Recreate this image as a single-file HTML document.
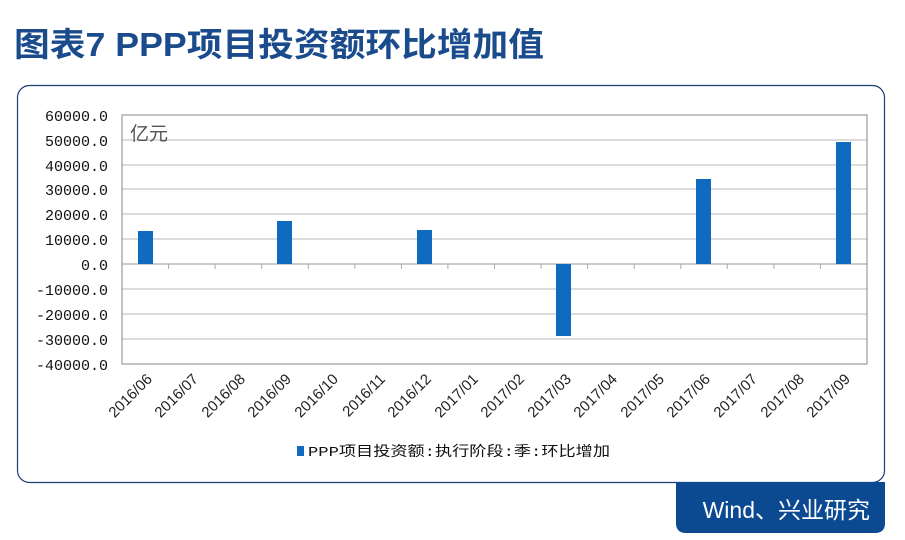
<!DOCTYPE html>
<html><head><meta charset="utf-8"><style>
body{margin:0;width:905px;height:540px;background:#fff;overflow:hidden;font-family:"Liberation Sans","Noto Sans CJK SC",sans-serif;}
</style></head><body>
<svg width="905" height="540" xmlns="http://www.w3.org/2000/svg" style="position:absolute;left:0;top:0">
<text x="14" y="56" font-size="33" font-weight="bold" fill="#1a4b8c" textLength="530" lengthAdjust="spacingAndGlyphs" font-family="Liberation Sans,Noto Sans CJK SC,sans-serif">图表7 PPP项目投资额环比增加值</text>
<rect x="17.5" y="85.5" width="867" height="397" rx="12" fill="#fff" stroke="#1a3f6e" stroke-width="1.2"/>
<path d="M676 482 H885 V523 Q885 533 875 533 H686 Q676 533 676 523 Z" fill="#0b4a91"/>
<text x="870" y="518" font-size="23" fill="#fff" text-anchor="end" font-family="Liberation Sans,Noto Sans CJK SC,sans-serif">Wind、兴业研究</text>
<g stroke="#d0d0d0" stroke-width="1.5">
<line x1="122" y1="140" x2="867" y2="140"/><line x1="122" y1="165" x2="867" y2="165"/><line x1="122" y1="189" x2="867" y2="189"/><line x1="122" y1="214" x2="867" y2="214"/><line x1="122" y1="239" x2="867" y2="239"/><line x1="122" y1="289" x2="867" y2="289"/><line x1="122" y1="314" x2="867" y2="314"/><line x1="122" y1="339" x2="867" y2="339"/>
</g>
<rect x="122" y="115" width="745" height="249" fill="none" stroke="#888" stroke-width="1"/>
<line x1="122" y1="264" x2="867" y2="264" stroke="#999" stroke-width="1"/>
<g stroke="#aaa">
<line x1="168.6" y1="264" x2="168.6" y2="269"/><line x1="215.1" y1="264" x2="215.1" y2="269"/><line x1="261.7" y1="264" x2="261.7" y2="269"/><line x1="308.3" y1="264" x2="308.3" y2="269"/><line x1="354.8" y1="264" x2="354.8" y2="269"/><line x1="401.4" y1="264" x2="401.4" y2="269"/><line x1="447.9" y1="264" x2="447.9" y2="269"/><line x1="494.5" y1="264" x2="494.5" y2="269"/><line x1="541.1" y1="264" x2="541.1" y2="269"/><line x1="587.6" y1="264" x2="587.6" y2="269"/><line x1="634.2" y1="264" x2="634.2" y2="269"/><line x1="680.8" y1="264" x2="680.8" y2="269"/><line x1="727.3" y1="264" x2="727.3" y2="269"/><line x1="773.9" y1="264" x2="773.9" y2="269"/><line x1="820.4" y1="264" x2="820.4" y2="269"/>
</g>
<g fill="#0e6bc0">
<rect x="138" y="231" width="15" height="33"/>
<rect x="277" y="221" width="15" height="43"/>
<rect x="417" y="230" width="15" height="34"/>
<rect x="556" y="264" width="15" height="72"/>
<rect x="696" y="179" width="15" height="85"/>
<rect x="836" y="142" width="15" height="122"/>
</g>
<text x="130" y="140" font-size="19" fill="#555" font-family="Liberation Sans,Noto Sans CJK SC,sans-serif">亿元</text>
<g font-size="15" fill="#111" text-anchor="end" font-family="Liberation Mono,monospace">
<text x="108" y="121">60000.0</text><text x="108" y="146">50000.0</text><text x="108" y="171">40000.0</text><text x="108" y="195">30000.0</text><text x="108" y="220">20000.0</text><text x="108" y="245">10000.0</text><text x="108" y="270">0.0</text><text x="108" y="295">-10000.0</text><text x="108" y="320">-20000.0</text><text x="108" y="345">-30000.0</text><text x="108" y="370">-40000.0</text>
</g>
<g font-size="15" fill="#222" text-anchor="end" font-family="Liberation Sans,sans-serif">
<text transform="translate(153,380) rotate(-45)">2016/06</text>
<text transform="translate(199,380) rotate(-45)">2016/07</text>
<text transform="translate(246,380) rotate(-45)">2016/08</text>
<text transform="translate(292,380) rotate(-45)">2016/09</text>
<text transform="translate(339,380) rotate(-45)">2016/10</text>
<text transform="translate(386,380) rotate(-45)">2016/11</text>
<text transform="translate(432,380) rotate(-45)">2016/12</text>
<text transform="translate(479,380) rotate(-45)">2017/01</text>
<text transform="translate(525,380) rotate(-45)">2017/02</text>
<text transform="translate(572,380) rotate(-45)">2017/03</text>
<text transform="translate(618,380) rotate(-45)">2017/04</text>
<text transform="translate(665,380) rotate(-45)">2017/05</text>
<text transform="translate(711,380) rotate(-45)">2017/06</text>
<text transform="translate(758,380) rotate(-45)">2017/07</text>
<text transform="translate(805,380) rotate(-45)">2017/08</text>
<text transform="translate(851,380) rotate(-45)">2017/09</text>
</g>
<rect x="297" y="446" width="7" height="10" fill="#0e6bc0"/>
<text x="308" y="456" font-size="14" fill="#111" textLength="302" lengthAdjust="spacingAndGlyphs" font-family="Liberation Mono,Noto Sans CJK SC,monospace">PPP项目投资额:执行阶段:季:环比增加</text>
</svg>
</body></html>
